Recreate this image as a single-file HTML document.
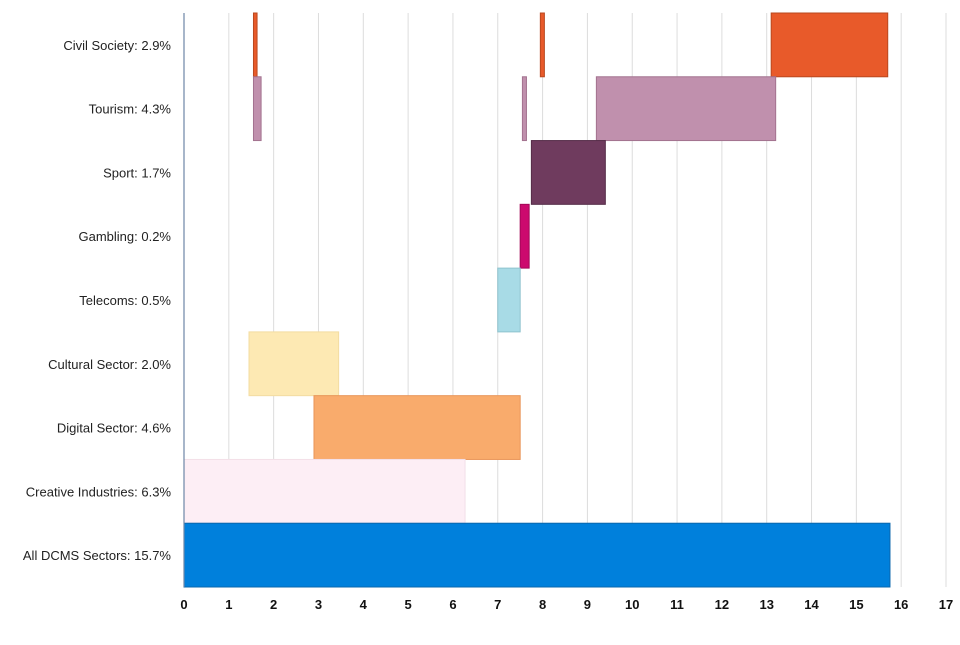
<!DOCTYPE html>
<html><head><meta charset="utf-8"><style>
body{margin:0;background:#fff;font-family:"Liberation Sans",Arial,sans-serif}
</style></head><body>
<svg id="chart" width="960" height="640" xmlns="http://www.w3.org/2000/svg"></svg>
<script>
const categories=["Civil Society: 2.9%","Tourism: 4.3%","Sport: 1.7%","Gambling: 0.2%","Telecoms: 0.5%","Cultural Sector: 2.0%","Digital Sector: 4.6%","Creative Industries: 6.3%","All DCMS Sectors: 15.7%"];
const segStarts=[[1.55,7.95,13.1],[1.55,7.55,9.2],[7.75],[7.5],[7.0],[1.45],[2.9],[0],[0]];
const segEnds=[[1.63,8.04,15.7],[1.72,7.64,13.2],[9.4],[7.7],[7.5],[3.45],[7.5],[6.27],[15.75]];
const colors=["#e85a2a","#c090ad","#6f3b5e","#cc0a6e","#a8dbe6","#fde9b3","#f9ab6c","#fdeef5","#0080dc"];
const strokes=["#b9481f","#a3728f","#552c48","#a30858","#8fc3ce","#f3dca2","#e99558","#f3dfe8","#0a67ae"];
const ticks=[0,1,2,3,4,5,6,7,8,9,10,11,12,13,14,15,16,17];
const svg=document.getElementById('chart');
const NS="http://www.w3.org/2000/svg";
const x0=184,x1=946,plotTop=13,plotBottom=587;
const xs=v=>x0+(v/17)*(x1-x0);
const band=(plotBottom-plotTop)/categories.length;
function mk(tag,attrs){const e=document.createElementNS(NS,tag);for(const k in attrs)e.setAttribute(k,attrs[k]);svg.appendChild(e);return e;}
ticks.forEach(t=>{
 if(t>0){const g=mk('line',{x1:xs(t),x2:xs(t),y1:plotTop,y2:plotBottom,stroke:'#dcdcdc','stroke-width':1});
 
 }
 const l=mk('text',{x:xs(t),y:609,'text-anchor':'middle','font-size':13,'font-weight':'bold',fill:'#111'});
 l.textContent=t;
 
 
});
categories.forEach((c,i)=>{
 const y=plotTop+i*band;
 segStarts[i].forEach((s,j)=>{
  const r=mk('rect',{x:xs(s),y:y,width:xs(segEnds[i][j])-xs(s),height:band,fill:colors[i],stroke:strokes[i],'stroke-width':1});
  
  
 });
 const t=mk('text',{x:171,y:y+band/2+5,'text-anchor':'end','font-size':13,fill:'#222'});
 t.textContent=c;
 
 
});
const ax=mk('line',{x1:x0,x2:x0,y1:plotTop,y2:plotBottom,stroke:'#6d86a6','stroke-width':1.2});


</script>
</body></html>
